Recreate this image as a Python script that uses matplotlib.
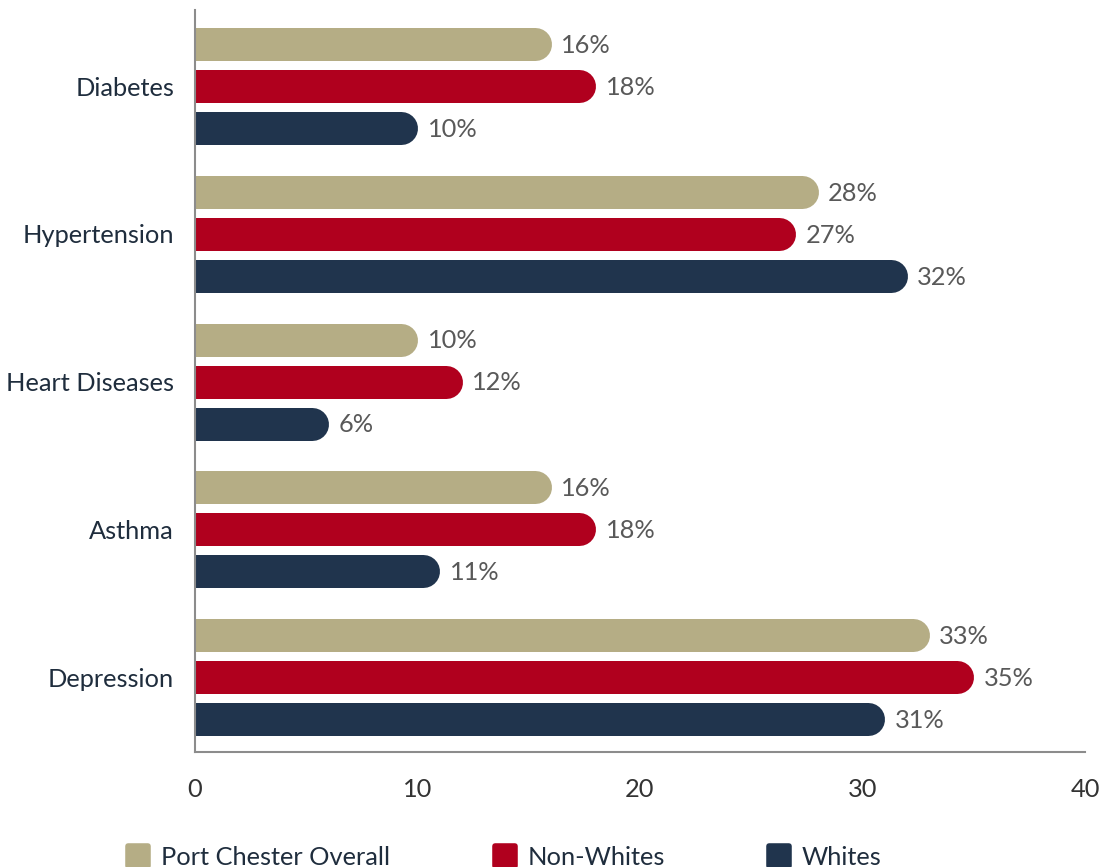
import numpy as np
import matplotlib.pyplot as plt
from matplotlib.lines import Line2D
from matplotlib.markers import MarkerStyle

plt.rcParams['font.family'] = ['Lato', 'DejaVu Sans']

# data
categories = ['Diabetes', 'Hypertension', 'Heart Diseases', 'Asthma', 'Depression']
series = ['Port Chester Overall', 'Non-Whites', 'Whites']
overall = [16, 28, 10, 16, 33]
non_whites = [18, 27, 12, 18, 35]
whites = [10, 32, 6, 11, 31]
colors = ['#b5ad85', '#b0001e', '#20344d']

values = [overall, non_whites, whites]
fs = 18.3

fig = plt.figure(figsize=(11.02, 8.67), dpi=100)
ax = fig.add_axes([195/1102, 115/867, 890/1102, 742/867])

xmax = 40
group_gap = 3.52
ax.set_xlim(0, xmax)
ax.set_ylim(16.86, -0.81)

# bar geometry: pill bars drawn as thick lines with round caps
bar_px = 33
ax_w_px = ax.get_position().width * fig.get_figwidth() * fig.dpi
r = (bar_px / 2) / (ax_w_px / xmax)
lw = bar_px * 72 / fig.dpi

for j, vals in enumerate(values):
    for g, v in enumerate(vals):
        y = g * group_gap + j
        ax.plot([0, v - r], [y, y], color=colors[j], lw=lw,
                solid_capstyle='round', zorder=2)
        ax.text(v + 0.45, y + 0.03, f'{v}%', va='center', ha='left',
                fontsize=fs, color='#595959')

ax.set_yticks([g * group_gap + 1 for g in range(len(categories))])
ax.set_yticklabels(categories, fontsize=fs, color='#1f2d3d')
ax.set_xticks(np.arange(0, 41, 10))
ax.tick_params(axis='x', labelsize=fs, labelcolor='#333333', length=0, pad=19)
ax.tick_params(axis='y', length=0, pad=15)

for s in ['top', 'right']:
    ax.spines[s].set_visible(False)
for s in ['left', 'bottom']:
    ax.spines[s].set_color('#8c8c8c')
    ax.spines[s].set_linewidth(1.5)

handles = [Line2D([], [], ls='none', marker=MarkerStyle('s', joinstyle='round'),
                  markersize=14, markerfacecolor=c, markeredgecolor=c,
                  markeredgewidth=4) for c in colors]
fig.legend(handles, series, loc='center', bbox_to_anchor=(0.457, 0.011),
           ncol=3, frameon=False, fontsize=fs, labelcolor='#1f2d3d',
           columnspacing=4.0, handlelength=1.0, handletextpad=0.4, borderpad=0)

fig.savefig('out.png', dpi=100)
